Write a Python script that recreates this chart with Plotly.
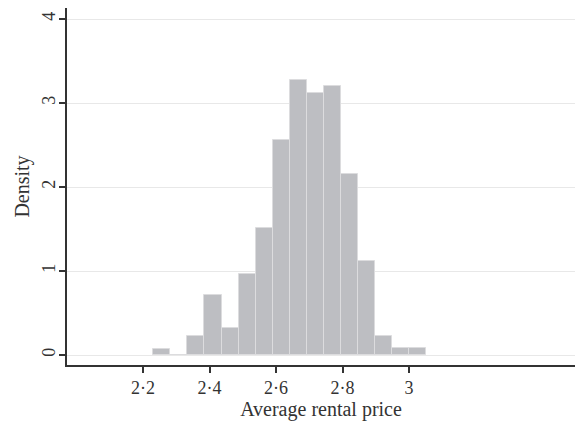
import plotly.graph_objects as go

# Histogram of average rental price (density scale)
bin_start = 2.231
bin_width = 0.05125
density = [0.075, 0.0, 0.23, 0.72, 0.32, 0.96, 1.51, 2.56, 3.27, 3.12, 3.20, 2.16, 1.12, 0.23, 0.08, 0.08]

x_tickvals = [2.2, 2.4, 2.6, 2.8, 3.0]
x_ticktext = ["2·2", "2·4", "2·6", "2·8", "3"]
y_tickvals = [0, 1, 2, 3, 4]
y_ticktext = ["0", "1", "2", "3", "4"]

centers = [bin_start + bin_width * (i + 0.5) for i in range(len(density))]

font_family = "Liberation Serif, Times New Roman, serif"

fig = go.Figure(
    go.Bar(
        x=centers,
        y=density,
        width=[bin_width] * len(density),
        marker=dict(color="#bdbec2", line=dict(color="#dcdcde", width=1)),
    )
)

fig.update_layout(
    width=575,
    height=422,
    margin=dict(l=67, r=0, t=8, b=57),
    paper_bgcolor="white",
    plot_bgcolor="white",
    showlegend=False,
    bargap=0,
    font=dict(family=font_family, color="#333333"),
)

fig.update_xaxes(
    range=[1.9714, 3.499],
    tickvals=x_tickvals,
    ticktext=x_ticktext,
    ticks="outside",
    ticklen=6,
    tickwidth=1.5,
    tickcolor="#333333",
    showline=True,
    linecolor="#333333",
    linewidth=1.5,
    showgrid=False,
    zeroline=False,
    tickfont=dict(size=18, family=font_family, color="#333333"),
    title=dict(text="Average rental price", font=dict(size=20, family=font_family, color="#333333"), standoff=3),
)

fig.update_yaxes(
    range=[-0.119, 4.131],
    tickvals=y_tickvals,
    ticktext=y_ticktext,
    tickangle=-90,
    ticks="outside",
    ticklen=6,
    tickwidth=1.5,
    tickcolor="#333333",
    showline=True,
    linecolor="#333333",
    linewidth=1.5,
    showgrid=True,
    gridcolor="#e8e8e8",
    gridwidth=1,
    zeroline=False,
    ticklabelstandoff=-3,
    tickfont=dict(size=18, family=font_family, color="#333333"),
    title=dict(text="Density", font=dict(size=20, family=font_family, color="#333333"), standoff=4),
)

fig.write_html("out.html")
